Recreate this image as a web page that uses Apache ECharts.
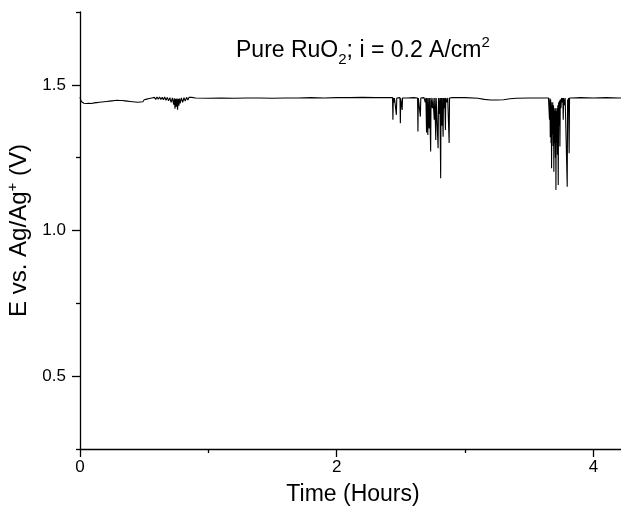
<!DOCTYPE html>
<html>
<head>
<meta charset="utf-8">
<script src="https://cdn.jsdelivr.net/npm/echarts@6/dist/echarts.min.js"></script>
<style>
html,body{margin:0;padding:0;background:#fff;}
#chart{width:621px;height:518px;}
</style>
</head>
<body>
<div id="chart"></div>
<script>
// Time (hours) / potential (V) readings
const startDrift = [
  [0,1.458],[0.005,1.450],[0.01,1.443],[0.02,1.439],[0.03,1.437],[0.05,1.436],[0.07,1.437],[0.09,1.436],
  [0.11,1.438],[0.13,1.439],[0.15,1.440],[0.17,1.441],[0.19,1.442],[0.21,1.443],[0.23,1.444],[0.25,1.445],
  [0.27,1.446],[0.29,1.447]
];
const earlyNoise = [
  [0.30,1.449],[0.31,1.446],[0.32,1.449],[0.33,1.446],[0.34,1.448],[0.35,1.445],[0.36,1.448],[0.37,1.444],
  [0.38,1.447],[0.39,1.443],[0.40,1.446],[0.41,1.442],[0.42,1.446],[0.43,1.441],[0.44,1.445],[0.45,1.440],
  [0.46,1.445],[0.47,1.441],[0.48,1.447],[0.49,1.442],[0.50,1.449],[0.51,1.444],[0.52,1.451],[0.53,1.446],
  [0.54,1.453],[0.55,1.447],[0.56,1.455],[0.57,1.449],[0.58,1.457],[0.59,1.450],[0.60,1.458],[0.61,1.451],
  [0.62,1.458],[0.63,1.450],[0.64,1.457],[0.65,1.449],[0.66,1.458],[0.67,1.447],[0.68,1.457],[0.69,1.445],
  [0.70,1.456],[0.71,1.440],[0.72,1.455],[0.73,1.432],[0.735,1.454],[0.74,1.418],[0.745,1.452],[0.75,1.425],
  [0.755,1.453],[0.76,1.415],[0.765,1.452],[0.77,1.428],[0.775,1.453],[0.78,1.436],[0.79,1.455],[0.80,1.440],
  [0.81,1.456],[0.82,1.444],[0.83,1.457],[0.84,1.448],[0.85,1.457],[0.86,1.451],[0.87,1.457],[0.88,1.453]
];
const plateau1 = [
  [0.90,1.455],[1.0,1.454],[1.1,1.455],[1.2,1.454],[1.3,1.455],[1.4,1.455],[1.5,1.454],[1.6,1.455],
  [1.7,1.455],[1.8,1.456],[1.9,1.455],[2.0,1.456],[2.1,1.456],[2.2,1.457],[2.3,1.456],[2.4,1.456]
];
const spikes1 = [
  [2.435,1.456],[2.438,1.380],[2.441,1.455],[2.447,1.440],[2.450,1.455],[2.462,1.456],[2.465,1.397],[2.468,1.455],
  [2.480,1.450],[2.483,1.455],[2.493,1.456],[2.496,1.368],[2.499,1.454],[2.507,1.455],[2.510,1.414],[2.513,1.455],
  [2.55,1.455],[2.60,1.456],[2.630,1.455],[2.633,1.340],[2.636,1.455],[2.649,1.456],[2.652,1.391],[2.655,1.455],
  [2.680,1.456],[2.690,1.440],[2.695,1.455],[2.700,1.336],[2.703,1.455],[2.710,1.328],[2.713,1.455],[2.720,1.350],
  [2.724,1.455],[2.729,1.455],[2.732,1.271],[2.735,1.455],[2.745,1.420],[2.750,1.455],[2.760,1.380],[2.764,1.455],
  [2.769,1.456],[2.772,1.311],[2.775,1.455],[2.787,1.455],[2.790,1.282],[2.793,1.455],[2.800,1.400],[2.804,1.455],
  [2.807,1.456],[2.810,1.179],[2.813,1.455],[2.818,1.360],[2.822,1.455],[2.826,1.456],[2.829,1.322],[2.832,1.455],
  [2.838,1.420],[2.842,1.455],[2.844,1.456],[2.847,1.345],[2.850,1.455],[2.860,1.440],[2.865,1.455],[2.873,1.456],
  [2.876,1.300],[2.879,1.455],[2.90,1.456]
];
const plateau2 = [
  [3.0,1.456],[3.1,1.454],[3.15,1.450],[3.2,1.448],[3.25,1.448],[3.3,1.449],[3.35,1.452],[3.4,1.454],
  [3.5,1.455],[3.6,1.455],[3.65,1.455]
];
const spikes2 = [
  [3.655,1.455],[3.658,1.380],[3.661,1.454],[3.664,1.320],[3.667,1.450],[3.670,1.300],[3.672,1.440],[3.674,1.214],
  [3.677,1.430],[3.680,1.330],[3.683,1.440],[3.686,1.290],[3.689,1.430],[3.692,1.202],[3.695,1.420],[3.698,1.300],
  [3.701,1.410],[3.704,1.250],[3.706,1.420],[3.708,1.139],[3.711,1.410],[3.714,1.300],[3.717,1.420],[3.720,1.260],
  [3.723,1.430],[3.726,1.156],[3.729,1.440],[3.733,1.360],[3.736,1.445],[3.739,1.288],[3.742,1.450],[3.747,1.420],
  [3.752,1.455],[3.758,1.440],[3.762,1.455],[3.765,1.380],[3.768,1.455],[3.775,1.430],[3.780,1.455],[3.793,1.455],
  [3.796,1.150],[3.799,1.450],[3.803,1.430],[3.806,1.455],[3.808,1.455],[3.811,1.265],[3.814,1.455],[3.83,1.455]
];
const plateau3 = [
  [3.9,1.456],[4.0,1.455],[4.1,1.456],[4.2,1.455],[4.22,1.455]
];
const xMajorTicks = [0, 2, 4];
const xMinorTicks = [1, 3];
const yMajorTicks = [0.5, 1.0, 1.5];
const yMinorTicks = [0.25, 0.75, 1.25, 1.75];

const series = [].concat(startDrift, earlyNoise, plateau1, spikes1, plateau2, spikes2, plateau3);

const FONT = 'Liberation Sans, Arial, sans-serif';
const chart = echarts.init(document.getElementById('chart'), null, {renderer: 'canvas'});
const axisLineStyle = {color: '#000', width: 1.3};
const txt = (size, extra) => Object.assign({fontSize: size, fontFamily: FONT, color: '#000', fontWeight: 'normal'}, extra || {});
chart.setOption({
  animation: false,
  backgroundColor: '#fff',
  title: {
    text: '{a|Pure RuO}{sub|2}{a|; i = 0.2 A/cm}{sup|2}',
    left: 231, top: 30,
    textStyle: {
      fontWeight: 'normal',
      rich: {
        a: txt(23, {lineHeight: 32}),
        sub: txt(15, {verticalAlign: 'bottom', lineHeight: 15}),
        sup: txt(15, {verticalAlign: 'top', lineHeight: 15})
      }
    }
  },
  grid: {left: 80, right: 0, top: 12, bottom: 69, containLabel: false, outerBoundsMode: 'none'},
  xAxis: [{
    type: 'value', min: 0, max: 4.215, interval: 2, position: 'bottom',
    name: 'Time (Hours)', nameLocation: 'middle', nameGap: 34,
    nameTextStyle: txt(23, {padding: [0, 0, 0, 5]}),
    axisLine: {show: true, lineStyle: axisLineStyle},
    axisTick: {show: true, customValues: xMajorTicks, length: 8, inside: false, lineStyle: axisLineStyle},
    axisLabel: {customValues: xMajorTicks, fontSize: 17, fontFamily: FONT, color: '#000', margin: 10},
    splitLine: {show: false}
  }, {
    type: 'value', min: 0, max: 4.215, position: 'bottom',
    axisLine: {show: false},
    axisTick: {show: true, customValues: xMinorTicks, length: 4, lineStyle: axisLineStyle},
    axisLabel: {show: false},
    splitLine: {show: false}
  }],
  yAxis: [{
    type: 'value', min: 0.25, max: 1.75, position: 'left',
    name: '{a|E vs. Ag/Ag}{s|+}{a| (V)}', nameLocation: 'middle', nameGap: 41,
    nameTextStyle: {
      rich: {
        a: txt(24, {lineHeight: 28}),
        s: txt(15, {verticalAlign: 'top', lineHeight: 15})
      }
    },
    axisLine: {show: true, lineStyle: axisLineStyle},
    axisTick: {show: true, customValues: yMajorTicks, length: 8, lineStyle: axisLineStyle},
    axisLabel: {customValues: yMajorTicks, fontSize: 17, fontFamily: FONT, color: '#000', margin: 14,
      formatter: v => v.toFixed(1)},
    splitLine: {show: false}
  }, {
    type: 'value', min: 0.25, max: 1.75, position: 'left',
    axisLine: {show: false},
    axisTick: {show: true, customValues: yMinorTicks, length: 4, lineStyle: axisLineStyle},
    axisLabel: {show: false},
    splitLine: {show: false}
  }],
  series: [{
    type: 'line', xAxisIndex: 0, yAxisIndex: 0,
    data: series, showSymbol: false, symbol: 'none', sampling: null,
    lineStyle: {color: '#000', width: 1.1},
    clip: true
  }]
});
</script>
</body>
</html>
